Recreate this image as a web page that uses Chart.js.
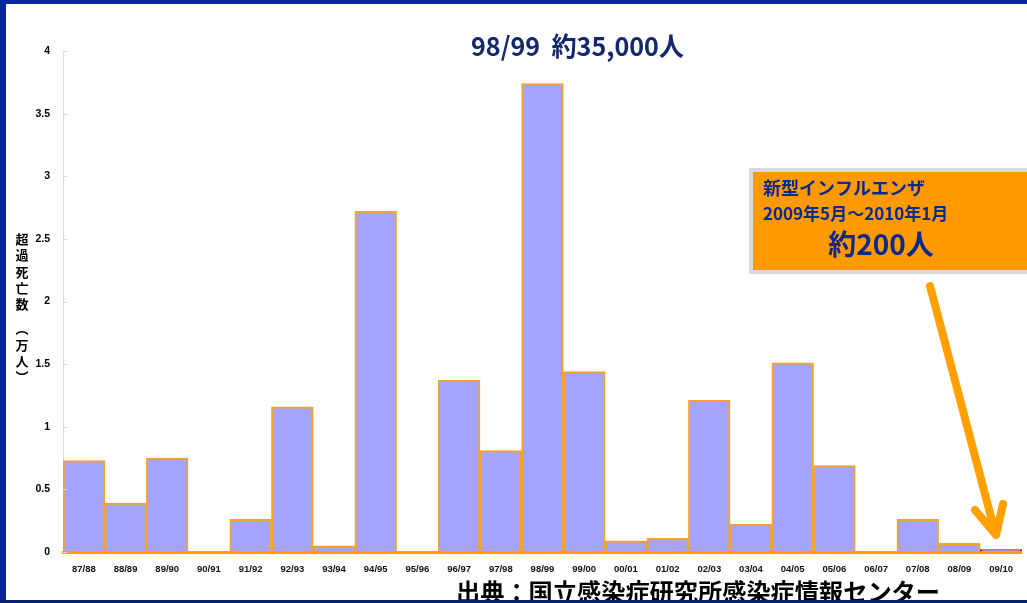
<!DOCTYPE html>
<html lang="ja">
<head>
<meta charset="utf-8">
<title>超過死亡数の推移</title>
<script src="https://cdn.jsdelivr.net/npm/chart.js@4/dist/chart.umd.min.js"></script>
<style>
  html, body { margin: 0; padding: 0; background: #ffffff; }
  #wrap { position: relative; width: 1027px; height: 603px; }
</style>
</head>
<body>
<div id="wrap"><canvas id="c" width="1027" height="603"></canvas></div>
<script>
// Influenza seasons (winter of year/next year)
const seasons = ['87/88','88/89','89/90','90/91','91/92','92/93','93/94','94/95','95/96','96/97','97/98','98/99',
                 '99/00','00/01','01/02','02/03','03/04','04/05','05/06','06/07','07/08','08/09','09/10'];
// Excess deaths, in units of 10,000 people (万人)
const excessDeaths = [0.73,0.39,0.75,0,0.26,1.16,0.05,2.72,0,1.37,0.81,3.74,
                      1.44,0.09,0.11,1.21,0.22,1.51,0.69,0,0.26,0.07,0.02];
const yTickValues = [0,0.5,1,1.5,2,2.5,3,3.5,4];
const yTickLabels = ['0','0.5','1','1.5','2','2.5','3','3.5','4'];

const headline = '98/99  約35,000人';
const yTitleChars = ['超','過','死','亡','数','','︵','万','人','︶'];
const noteLines = ['新型インフルエンザ','2009年5月～2010年1月','約200人'];
const sourceText = '出典：国立感染症研究所感染症情報センター';

const CJK = '"Noto Sans CJK JP", "Noto Sans", sans-serif';
const ORANGE = '#ffa000';
const NAVY = '#0b2a8f';

const barBorders = seasons.map((s, i) => i === seasons.length - 1 ? '#8b1010' : '#f5a228');

const overlay = {
  id: 'overlay',
  afterDatasetsDraw(chart) {
    const ctx = chart.ctx;
    const a = chart.chartArea;
    const y = chart.scales.y;
    ctx.save();
    // baseline along the category axis
    ctx.strokeStyle = ORANGE;
    ctx.lineWidth = 3;
    ctx.beginPath();
    ctx.moveTo(a.left - 1, y.getPixelForValue(0) + 0.5);
    ctx.lineTo(a.right, y.getPixelForValue(0) + 0.5);
    ctx.stroke();
    // short inner tick marks on the value axis
    ctx.strokeStyle = '#d8d8d8';
    ctx.lineWidth = 1;
    yTickValues.forEach(v => {
      const py = Math.round(y.getPixelForValue(v)) + 0.5;
      ctx.beginPath();
      ctx.moveTo(a.left, py);
      ctx.lineTo(a.left + 4, py);
      ctx.stroke();
    });
    ctx.restore();
  },
  afterDraw(chart) {
    const ctx = chart.ctx;
    const W = chart.width, H = chart.height;
    ctx.save();

    // headline (condensed)
    ctx.fillStyle = '#14286e';
    ctx.font = 'bold 26px ' + CJK;
    ctx.textBaseline = 'middle';
    const hw = ctx.measureText(headline).width;
    ctx.save();
    ctx.translate(471, 46);
    ctx.scale(213 / hw, 1);
    ctx.textAlign = 'left';
    ctx.fillText(headline, 0, 0);
    ctx.restore();

    // vertical axis title
    ctx.fillStyle = '#000';
    ctx.font = 'bold 13px ' + CJK;
    ctx.textAlign = 'center';
    let ty = 239;
    yTitleChars.forEach(ch => {
      if (ch) ctx.fillText(ch, 22, ty);
      ty += ch ? 16.3 : 8;
    });

    // note box
    ctx.fillStyle = '#d9d9d9';
    ctx.fillRect(749, 168, W - 749, 106);
    ctx.fillStyle = '#ff9900';
    ctx.fillRect(753, 172, W - 753, 98);
    ctx.fillStyle = NAVY;
    ctx.textAlign = 'left';
    ctx.font = 'bold 18px ' + CJK;
    ctx.fillText(noteLines[0], 763, 188);
    ctx.font = 'bold 17px ' + CJK;
    ctx.fillText(noteLines[1], 763, 214);
    ctx.font = 'bold 28px ' + CJK;
    ctx.textAlign = 'center';
    ctx.fillText(noteLines[2], 881, 244);

    // arrow pointing at the 09/10 bar
    ctx.strokeStyle = '#ff9f00';
    ctx.lineWidth = 8;
    ctx.lineCap = 'round';
    ctx.lineJoin = 'round';
    ctx.beginPath();
    ctx.moveTo(930, 286);
    ctx.lineTo(995, 532);
    ctx.moveTo(975, 510);
    ctx.lineTo(996, 535);
    ctx.lineTo(1003, 504);
    ctx.stroke();

    // source
    ctx.fillStyle = '#000';
    ctx.font = 'bold 24px ' + CJK;
    ctx.textAlign = 'left';
    const sw = ctx.measureText(sourceText).width;
    ctx.save();
    ctx.translate(456, 592);
    ctx.scale(484 / sw, 1);
    ctx.fillText(sourceText, 0, 0);
    ctx.restore();

    // frame
    ctx.fillStyle = '#0726a0';
    ctx.fillRect(0, 0, 6, H);
    ctx.fillRect(0, 0, W, 4);
    ctx.fillStyle = '#0a1f70';
    ctx.fillRect(0, 600, W, 3);

    ctx.restore();
  }
};

new Chart(document.getElementById('c'), {
  type: 'bar',
  data: {
    labels: seasons,
    datasets: [{
      data: excessDeaths,
      backgroundColor: '#a4a4fe',
      borderColor: barBorders,
      borderWidth: 2,
      barPercentage: 1,
      categoryPercentage: 1
    }]
  },
  options: {
    responsive: false,
    animation: false,
    devicePixelRatio: 1,
    layout: { padding: { top: 51, right: 5, left: 0, bottom: 0 } },
    plugins: { legend: { display: false }, tooltip: { enabled: false }, title: { display: false } },
    scales: {
      x: {
        grid: { display: false, drawTicks: false },
        border: { display: false },
        ticks: {
          color: '#111',
          font: { family: 'Arial, "Liberation Sans", sans-serif', size: 9.5, weight: 'bold' },
          padding: 12,
          maxRotation: 0,
          autoSkip: false
        },
        afterFit(scale) { scale.height = 51; }
      },
      y: {
        min: 0,
        max: 4,
        grid: { display: true, drawOnChartArea: false, drawTicks: false, color: '#dcdcdc' },
        border: { display: true, color: '#dcdcdc', width: 1 },
        afterBuildTicks(scale) { scale.ticks = yTickValues.map(v => ({ value: v })); },
        ticks: {
          color: '#000',
          font: { family: 'Arial, "Liberation Sans", sans-serif', size: 10.5, weight: 'bold' },
          padding: 13,
          callback(value, index) { return yTickLabels[index]; }
        },
        afterFit(scale) { scale.width = 63; }
      }
    }
  },
  plugins: [overlay]
});
</script>
</body>
</html>
